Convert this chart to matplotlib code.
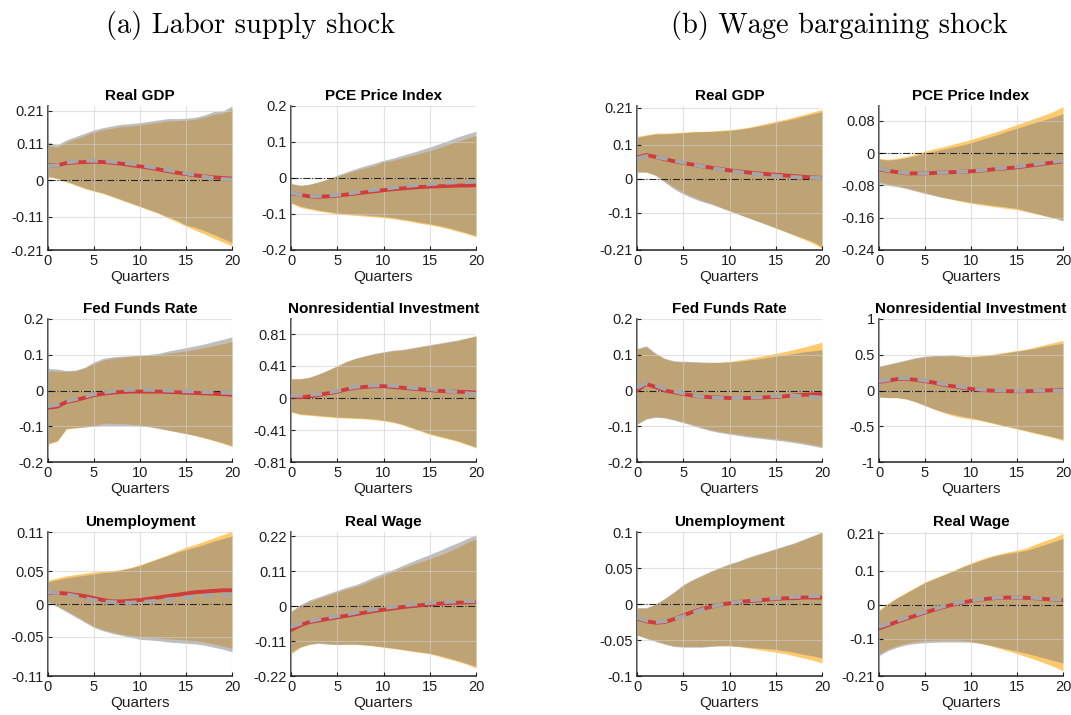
import matplotlib
matplotlib.use("Agg")
import matplotlib.pyplot as plt

plt.rcParams["font.family"] = ["Liberation Sans", "DejaVu Sans"]

quarters = list(range(21))

# ---------- (a) labor supply shock ----------
a_gdp_red = [0.045, 0.045, 0.052, 0.054, 0.055, 0.056, 0.055, 0.053, 0.050, 0.046, 0.042,
             0.038, 0.033, 0.028, 0.023, 0.019, 0.015, 0.012, 0.009, 0.007, 0.005]
a_gdp_gry = [0.043, 0.045, 0.054, 0.057, 0.059, 0.059, 0.058, 0.056, 0.053, 0.050, 0.046,
             0.041, 0.036, 0.031, 0.026, 0.021, 0.016, 0.011, 0.007, 0.004, 0.002]
a_gdp_lo1 = [0.010, 0.005, -0.005, -0.015, -0.025, -0.033, -0.040, -0.050, -0.060, -0.070, -0.080,
             -0.090, -0.100, -0.113, -0.125, -0.138, -0.150, -0.162, -0.174, -0.186, -0.198]
a_gdp_hi1 = [0.105, 0.100, 0.115, 0.125, 0.135, 0.145, 0.152, 0.157, 0.162, 0.164, 0.167,
             0.171, 0.175, 0.179, 0.180, 0.181, 0.184, 0.190, 0.199, 0.203, 0.215]
a_gdp_lo2 = [0.012, 0.007, -0.003, -0.013, -0.023, -0.031, -0.038, -0.048, -0.058, -0.068, -0.078,
             -0.088, -0.098, -0.110, -0.120, -0.135, -0.142, -0.152, -0.163, -0.175, -0.188]
a_gdp_hi2 = [0.115, 0.107, 0.122, 0.132, 0.142, 0.152, 0.159, 0.164, 0.169, 0.171, 0.174,
             0.178, 0.182, 0.186, 0.186, 0.187, 0.190, 0.197, 0.207, 0.209, 0.224]

a_pce_red = [-0.042, -0.047, -0.051, -0.052, -0.051, -0.049, -0.046, -0.043, -0.040, -0.037, -0.034,
             -0.031, -0.029, -0.027, -0.025, -0.024, -0.023, -0.022, -0.021, -0.021, -0.020]
a_pce_gry = [-0.040, -0.047, -0.050, -0.050, -0.049, -0.047, -0.044, -0.040, -0.036, -0.033, -0.030,
             -0.027, -0.024, -0.021, -0.019, -0.017, -0.015, -0.013, -0.012, -0.011, -0.010]
a_pce_lo1 = [-0.070, -0.082, -0.087, -0.092, -0.096, -0.100, -0.102, -0.104, -0.106, -0.108, -0.110,
             -0.113, -0.117, -0.121, -0.126, -0.130, -0.135, -0.141, -0.148, -0.155, -0.163]
a_pce_hi1 = [-0.016, -0.021, -0.018, -0.012, -0.004, 0.005, 0.013, 0.021, 0.028, 0.034, 0.045,
             0.049, 0.056, 0.062, 0.069, 0.076, 0.084, 0.093, 0.102, 0.110, 0.118]
a_pce_lo2 = [-0.068, -0.078, -0.084, -0.089, -0.093, -0.097, -0.099, -0.101, -0.103, -0.105, -0.107,
             -0.110, -0.114, -0.118, -0.123, -0.127, -0.132, -0.138, -0.145, -0.152, -0.160]
a_pce_hi2 = [-0.015, -0.020, -0.017, -0.010, -0.002, 0.008, 0.017, 0.026, 0.034, 0.041, 0.049,
             0.055, 0.063, 0.070, 0.078, 0.086, 0.095, 0.104, 0.114, 0.122, 0.130]

a_ffr_red = [-0.048, -0.045, -0.032, -0.027, -0.020, -0.013, -0.009, -0.006, -0.004, -0.003, -0.003,
             -0.003, -0.003, -0.004, -0.005, -0.006, -0.007, -0.008, -0.009, -0.010, -0.012]
a_ffr_gry = [-0.044, -0.040, -0.030, -0.024, -0.017, -0.010, -0.006, -0.002, 0.001, 0.002, 0.002,
             0.002, 0.001, 0.000, -0.001, -0.002, -0.003, -0.004, -0.005, -0.006, -0.007]
a_ffr_lo1 = [-0.150, -0.143, -0.108, -0.105, -0.102, -0.098, -0.092, -0.092, -0.093, -0.094, -0.096,
             -0.100, -0.105, -0.110, -0.115, -0.120, -0.126, -0.133, -0.140, -0.148, -0.157]
a_ffr_hi1 = [0.055, 0.054, 0.053, 0.055, 0.063, 0.075, 0.085, 0.090, 0.093, 0.096, 0.097,
             0.098, 0.100, 0.104, 0.107, 0.111, 0.115, 0.120, 0.125, 0.131, 0.137]
a_ffr_lo2 = [-0.148, -0.140, -0.106, -0.104, -0.102, -0.100, -0.098, -0.098, -0.098, -0.098, -0.099,
             -0.102, -0.106, -0.111, -0.116, -0.121, -0.126, -0.132, -0.139, -0.146, -0.154]
a_ffr_hi2 = [0.062, 0.060, 0.056, 0.057, 0.065, 0.080, 0.090, 0.094, 0.096, 0.097, 0.099,
             0.101, 0.104, 0.110, 0.115, 0.120, 0.125, 0.130, 0.137, 0.143, 0.150]

a_inv_red = [0.02, 0.01, 0.02, 0.04, 0.06, 0.08, 0.11, 0.13, 0.14, 0.15, 0.15,
             0.14, 0.13, 0.12, 0.11, 0.10, 0.09, 0.085, 0.08, 0.075, 0.07]
a_inv_gry = [0.03, 0.03, 0.04, 0.05, 0.07, 0.09, 0.12, 0.14, 0.155, 0.16, 0.16,
             0.155, 0.145, 0.13, 0.12, 0.11, 0.10, 0.09, 0.075, 0.06, 0.05]
a_inv_lo1 = [-0.18, -0.21, -0.22, -0.23, -0.24, -0.25, -0.255, -0.26, -0.265, -0.275, -0.29,
             -0.31, -0.34, -0.38, -0.42, -0.46, -0.49, -0.52, -0.55, -0.59, -0.63]
a_inv_hi1 = [0.24, 0.24, 0.26, 0.30, 0.35, 0.41, 0.46, 0.50, 0.53, 0.555, 0.575,
             0.595, 0.605, 0.625, 0.645, 0.665, 0.685, 0.705, 0.725, 0.755, 0.79]
a_inv_lo2 = [-0.17, -0.20, -0.21, -0.22, -0.23, -0.24, -0.245, -0.25, -0.255, -0.265, -0.28,
             -0.30, -0.33, -0.37, -0.41, -0.45, -0.48, -0.51, -0.54, -0.58, -0.62]
a_inv_hi2 = [0.245, 0.245, 0.265, 0.305, 0.355, 0.405, 0.465, 0.505, 0.535, 0.565, 0.585,
             0.605, 0.615, 0.635, 0.655, 0.675, 0.695, 0.715, 0.735, 0.76, 0.785]

a_unr_red = [0.017, 0.017, 0.016, 0.014, 0.012, 0.009, 0.006, 0.004, 0.004, 0.005, 0.006,
             0.008, 0.010, 0.012, 0.014, 0.016, 0.018, 0.019, 0.020, 0.021, 0.021]
a_unr_gry = [0.018, 0.017, 0.015, 0.012, 0.009, 0.006, 0.004, 0.003, 0.002, 0.002, 0.003,
             0.004, 0.005, 0.007, 0.008, 0.010, 0.011, 0.012, 0.013, 0.014, 0.014]
a_unr_lo1 = [0.004, -0.003, -0.010, -0.018, -0.026, -0.034, -0.039, -0.043, -0.046, -0.048, -0.050,
             -0.051, -0.052, -0.053, -0.054, -0.055, -0.056, -0.058, -0.061, -0.064, -0.068]
a_unr_hi1 = [0.036, 0.040, 0.043, 0.045, 0.047, 0.049, 0.050, 0.051, 0.053, 0.056, 0.060,
             0.065, 0.070, 0.075, 0.081, 0.087, 0.091, 0.096, 0.101, 0.106, 0.111]
a_unr_lo2 = [0.003, -0.004, -0.012, -0.020, -0.028, -0.036, -0.041, -0.045, -0.048, -0.051, -0.054,
             -0.055, -0.056, -0.058, -0.059, -0.060, -0.061, -0.063, -0.066, -0.069, -0.073]
a_unr_hi2 = [0.034, 0.037, 0.040, 0.042, 0.044, 0.046, 0.048, 0.049, 0.052, 0.055, 0.059,
             0.064, 0.069, 0.074, 0.079, 0.083, 0.087, 0.091, 0.096, 0.100, 0.104]

a_wag_red = [-0.075, -0.060, -0.050, -0.045, -0.040, -0.035, -0.030, -0.025, -0.020, -0.015, -0.011,
             -0.007, -0.003, 0.000, 0.003, 0.006, 0.008, 0.010, 0.011, 0.012, 0.013]
a_wag_gry = [-0.065, -0.055, -0.047, -0.041, -0.036, -0.031, -0.026, -0.020, -0.015, -0.010, -0.006,
             -0.002, 0.002, 0.005, 0.008, 0.010, 0.012, 0.014, 0.015, 0.016, 0.016]
a_wag_lo1 = [-0.150, -0.130, -0.120, -0.115, -0.118, -0.120, -0.120, -0.120, -0.122, -0.125, -0.130,
             -0.133, -0.137, -0.142, -0.146, -0.150, -0.158, -0.166, -0.174, -0.183, -0.195]
a_wag_hi1 = [-0.018, 0.000, 0.015, 0.025, 0.035, 0.045, 0.054, 0.062, 0.072, 0.085, 0.097,
             0.108, 0.120, 0.130, 0.140, 0.150, 0.160, 0.172, 0.185, 0.200, 0.213]
a_wag_lo2 = [-0.145, -0.128, -0.120, -0.117, -0.120, -0.121, -0.120, -0.120, -0.122, -0.125, -0.128,
             -0.132, -0.136, -0.140, -0.144, -0.148, -0.155, -0.163, -0.171, -0.180, -0.190]
a_wag_hi2 = [-0.015, 0.005, 0.020, 0.030, 0.040, 0.050, 0.060, 0.068, 0.080, 0.093, 0.105,
             0.115, 0.128, 0.140, 0.152, 0.163, 0.175, 0.188, 0.200, 0.213, 0.225]

# ---------- (b) wage bargaining shock ----------
b_gdp_red = [0.063, 0.070, 0.065, 0.058, 0.052, 0.047, 0.042, 0.037, 0.033, 0.029, 0.025,
             0.022, 0.019, 0.016, 0.014, 0.012, 0.010, 0.008, 0.006, 0.004, 0.003]
b_gdp_gry = [0.060, 0.067, 0.065, 0.060, 0.054, 0.048, 0.042, 0.037, 0.032, 0.028, 0.024,
             0.020, 0.017, 0.014, 0.011, 0.009, 0.007, 0.005, 0.004, 0.003, 0.002]
b_gdp_lo1 = [0.020, 0.020, 0.012, -0.006, -0.024, -0.040, -0.052, -0.063, -0.072, -0.083, -0.094,
             -0.104, -0.114, -0.124, -0.134, -0.145, -0.156, -0.167, -0.178, -0.190, -0.205]
b_gdp_hi1 = [0.125, 0.130, 0.135, 0.135, 0.136, 0.138, 0.140, 0.140, 0.141, 0.143, 0.145,
             0.148, 0.152, 0.158, 0.164, 0.170, 0.176, 0.183, 0.190, 0.197, 0.205]
b_gdp_lo2 = [0.020, 0.020, 0.010, -0.010, -0.030, -0.045, -0.057, -0.067, -0.075, -0.085, -0.095,
             -0.105, -0.115, -0.125, -0.135, -0.145, -0.155, -0.165, -0.175, -0.185, -0.200]
b_gdp_hi2 = [0.122, 0.128, 0.132, 0.133, 0.134, 0.136, 0.138, 0.139, 0.140, 0.141, 0.143,
             0.146, 0.150, 0.155, 0.160, 0.166, 0.172, 0.178, 0.185, 0.192, 0.198]

b_pce_red = [-0.040, -0.044, -0.047, -0.050, -0.050, -0.050, -0.049, -0.048, -0.047, -0.046, -0.045,
             -0.043, -0.041, -0.039, -0.037, -0.035, -0.032, -0.029, -0.026, -0.023, -0.020]
b_pce_gry = [-0.038, -0.043, -0.047, -0.049, -0.050, -0.050, -0.049, -0.048, -0.047, -0.046, -0.044,
             -0.042, -0.040, -0.038, -0.035, -0.033, -0.030, -0.027, -0.024, -0.021, -0.018]
b_pce_lo1 = [-0.070, -0.077, -0.081, -0.086, -0.092, -0.098, -0.104, -0.110, -0.115, -0.120, -0.124,
             -0.128, -0.131, -0.134, -0.137, -0.140, -0.145, -0.150, -0.155, -0.160, -0.165]
b_pce_hi1 = [-0.013, -0.015, -0.012, -0.008, -0.002, 0.005, 0.011, 0.016, 0.022, 0.028, 0.034,
             0.041, 0.048, 0.055, 0.063, 0.071, 0.079, 0.087, 0.095, 0.104, 0.115]
b_pce_lo2 = [-0.075, -0.080, -0.083, -0.088, -0.094, -0.100, -0.105, -0.110, -0.114, -0.118, -0.122,
             -0.125, -0.128, -0.131, -0.134, -0.137, -0.143, -0.149, -0.155, -0.161, -0.168]
b_pce_hi2 = [-0.015, -0.017, -0.015, -0.011, -0.006, 0.000, 0.005, 0.010, 0.015, 0.020, 0.026,
             0.033, 0.040, 0.047, 0.055, 0.062, 0.069, 0.076, 0.083, 0.090, 0.098]

b_ffr_red = [0.000, 0.018, 0.010, 0.000, -0.005, -0.010, -0.014, -0.017, -0.019, -0.020, -0.021,
             -0.021, -0.021, -0.020, -0.019, -0.018, -0.016, -0.014, -0.012, -0.011, -0.010]
b_ffr_gry = [0.008, 0.020, 0.014, 0.004, -0.002, -0.008, -0.013, -0.017, -0.020, -0.021, -0.021,
             -0.021, -0.020, -0.019, -0.017, -0.016, -0.015, -0.015, -0.016, -0.018, -0.020]
b_ffr_lo1 = [-0.093, -0.078, -0.073, -0.075, -0.081, -0.088, -0.095, -0.103, -0.110, -0.115, -0.119,
             -0.122, -0.126, -0.129, -0.132, -0.135, -0.138, -0.142, -0.146, -0.151, -0.156]
b_ffr_hi1 = [0.115, 0.122, 0.102, 0.088, 0.081, 0.080, 0.079, 0.078, 0.078, 0.079, 0.081,
             0.085, 0.089, 0.094, 0.099, 0.104, 0.109, 0.115, 0.121, 0.128, 0.135]
b_ffr_lo2 = [-0.095, -0.080, -0.075, -0.077, -0.083, -0.090, -0.098, -0.106, -0.113, -0.118, -0.122,
             -0.126, -0.130, -0.133, -0.136, -0.139, -0.142, -0.146, -0.150, -0.155, -0.160]
b_ffr_hi2 = [0.118, 0.125, 0.105, 0.090, 0.083, 0.082, 0.081, 0.080, 0.079, 0.079, 0.080,
             0.082, 0.085, 0.088, 0.092, 0.096, 0.100, 0.104, 0.108, 0.111, 0.114]

b_inv_red = [0.12, 0.14, 0.16, 0.16, 0.15, 0.13, 0.11, 0.08, 0.06, 0.04, 0.02,
             0.01, 0.00, -0.005, -0.01, -0.01, -0.01, -0.005, 0.00, 0.005, 0.01]
b_inv_gry = [0.13, 0.15, 0.17, 0.17, 0.16, 0.14, 0.12, 0.09, 0.07, 0.05, 0.03,
             0.015, 0.005, 0.00, -0.005, -0.005, -0.005, 0.00, 0.00, 0.00, 0.00]
b_inv_lo1 = [-0.09, -0.10, -0.10, -0.12, -0.16, -0.21, -0.26, -0.31, -0.35, -0.38, -0.40,
             -0.42, -0.45, -0.48, -0.51, -0.54, -0.57, -0.60, -0.63, -0.66, -0.70]
b_inv_hi1 = [0.33, 0.36, 0.39, 0.42, 0.45, 0.47, 0.48, 0.48, 0.48, 0.48, 0.48,
             0.49, 0.50, 0.52, 0.54, 0.56, 0.58, 0.61, 0.64, 0.67, 0.70]
b_inv_lo2 = [-0.09, -0.10, -0.10, -0.12, -0.16, -0.21, -0.26, -0.30, -0.33, -0.36, -0.38,
             -0.41, -0.44, -0.47, -0.50, -0.53, -0.56, -0.59, -0.62, -0.65, -0.68]
b_inv_hi2 = [0.34, 0.37, 0.40, 0.43, 0.46, 0.48, 0.49, 0.49, 0.50, 0.48, 0.47,
             0.48, 0.49, 0.51, 0.53, 0.55, 0.57, 0.59, 0.62, 0.64, 0.66]

b_unr_red = [-0.020, -0.024, -0.026, -0.025, -0.021, -0.016, -0.011, -0.007, -0.004, -0.001, 0.001,
             0.003, 0.004, 0.005, 0.006, 0.007, 0.008, 0.008, 0.009, 0.009, 0.009]
b_unr_gry = [-0.019, -0.023, -0.025, -0.024, -0.021, -0.017, -0.012, -0.008, -0.004, -0.001, 0.001,
             0.003, 0.005, 0.006, 0.007, 0.008, 0.009, 0.010, 0.010, 0.011, 0.011]
b_unr_lo1 = [-0.043, -0.047, -0.051, -0.055, -0.058, -0.059, -0.059, -0.059, -0.058, -0.058, -0.058,
             -0.059, -0.061, -0.063, -0.065, -0.067, -0.069, -0.072, -0.075, -0.078, -0.082]
b_unr_hi1 = [-0.006, -0.006, -0.001, 0.007, 0.016, 0.026, 0.033, 0.039, 0.045, 0.050, 0.055,
             0.059, 0.064, 0.068, 0.072, 0.076, 0.080, 0.084, 0.089, 0.094, 0.099]
b_unr_lo2 = [-0.043, -0.048, -0.052, -0.056, -0.059, -0.060, -0.060, -0.060, -0.059, -0.058, -0.058,
             -0.059, -0.060, -0.061, -0.062, -0.063, -0.065, -0.067, -0.070, -0.072, -0.075]
b_unr_hi2 = [-0.005, -0.005, 0.000, 0.008, 0.017, 0.027, 0.034, 0.040, 0.046, 0.051, 0.056,
             0.060, 0.065, 0.069, 0.073, 0.077, 0.081, 0.085, 0.090, 0.095, 0.100]

b_wag_red = [-0.070, -0.060, -0.050, -0.041, -0.032, -0.023, -0.015, -0.007, 0.000, 0.006, 0.011,
             0.015, 0.018, 0.020, 0.021, 0.021, 0.020, 0.019, 0.017, 0.015, 0.013]
b_wag_gry = [-0.065, -0.056, -0.047, -0.038, -0.029, -0.021, -0.013, -0.005, 0.002, 0.008, 0.012,
             0.016, 0.019, 0.021, 0.022, 0.022, 0.021, 0.020, 0.018, 0.016, 0.014]
b_wag_lo1 = [-0.145, -0.130, -0.120, -0.113, -0.108, -0.106, -0.105, -0.104, -0.104, -0.105, -0.108,
             -0.113, -0.120, -0.128, -0.136, -0.144, -0.153, -0.162, -0.172, -0.182, -0.195]
b_wag_hi1 = [-0.015, 0.005, 0.022, 0.037, 0.052, 0.067, 0.078, 0.089, 0.100, 0.112, 0.123,
             0.133, 0.142, 0.149, 0.155, 0.160, 0.167, 0.178, 0.188, 0.197, 0.210]
b_wag_lo2 = [-0.150, -0.135, -0.125, -0.118, -0.114, -0.112, -0.111, -0.110, -0.110, -0.110, -0.111,
             -0.114, -0.119, -0.125, -0.131, -0.137, -0.143, -0.150, -0.157, -0.165, -0.172]
b_wag_hi2 = [-0.018, 0.002, 0.020, 0.035, 0.050, 0.065, 0.076, 0.087, 0.098, 0.110, 0.120,
             0.130, 0.139, 0.146, 0.151, 0.155, 0.160, 0.168, 0.177, 0.186, 0.195]

# y tick labels per panel
ticks_021_011 = ["-0.21", "-0.11", "0", "0.11", "0.21"]
ticks_02 = ["-0.2", "-0.1", "0", "0.1", "0.2"]
ticks_081 = ["-0.81", "-0.41", "0", "0.41", "0.81"]
ticks_011_005 = ["-0.11", "-0.05", "0", "0.05", "0.11"]
ticks_022 = ["-0.22", "-0.11", "0", "0.11", "0.22"]
ticks_021_01 = ["-0.21", "-0.1", "0", "0.1", "0.21"]
ticks_024 = ["-0.24", "-0.16", "-0.08", "0", "0.08"]
ticks_1 = ["-1", "-0.5", "0", "0.5", "1"]
ticks_01_005 = ["-0.1", "-0.05", "0", "0.05", "0.1"]

ORANGE = "#FFB22E"
GREY_BAND = "#7F7F7F"
RED = "#D13B3B"
GREY_LINE = "#A6A6A6"
INK = "#1F1F1F"

panels_a = [
    ("Real GDP", a_gdp_lo1, a_gdp_hi1, a_gdp_lo2, a_gdp_hi2, a_gdp_red, a_gdp_gry, (-0.21, 0.224), ticks_021_011),
    ("PCE Price Index", a_pce_lo1, a_pce_hi1, a_pce_lo2, a_pce_hi2, a_pce_red, a_pce_gry, (-0.2, 0.2), ticks_02),
    ("Fed Funds Rate", a_ffr_lo1, a_ffr_hi1, a_ffr_lo2, a_ffr_hi2, a_ffr_red, a_ffr_gry, (-0.2, 0.2), ticks_02),
    ("Nonresidential Investment", a_inv_lo1, a_inv_hi1, a_inv_lo2, a_inv_hi2, a_inv_red, a_inv_gry, (-0.81, 1.0), ticks_081),
    ("Unemployment", a_unr_lo1, a_unr_hi1, a_unr_lo2, a_unr_hi2, a_unr_red, a_unr_gry, (-0.11, 0.11), ticks_011_005),
    ("Real Wage", a_wag_lo1, a_wag_hi1, a_wag_lo2, a_wag_hi2, a_wag_red, a_wag_gry, (-0.22, 0.234), ticks_022),
]
panels_b = [
    ("Real GDP", b_gdp_lo1, b_gdp_hi1, b_gdp_lo2, b_gdp_hi2, b_gdp_red, b_gdp_gry, (-0.21, 0.215), ticks_021_01),
    ("PCE Price Index", b_pce_lo1, b_pce_hi1, b_pce_lo2, b_pce_hi2, b_pce_red, b_pce_gry, (-0.24, 0.117), ticks_024),
    ("Fed Funds Rate", b_ffr_lo1, b_ffr_hi1, b_ffr_lo2, b_ffr_hi2, b_ffr_red, b_ffr_gry, (-0.2, 0.2), ticks_02),
    ("Nonresidential Investment", b_inv_lo1, b_inv_hi1, b_inv_lo2, b_inv_hi2, b_inv_red, b_inv_gry, (-1.0, 1.0), ticks_1),
    ("Unemployment", b_unr_lo1, b_unr_hi1, b_unr_lo2, b_unr_hi2, b_unr_red, b_unr_gry, (-0.1, 0.1), ticks_01_005),
    ("Real Wage", b_wag_lo1, b_wag_hi1, b_wag_lo2, b_wag_hi2, b_wag_red, b_wag_gry, (-0.21, 0.214), ticks_021_01),
]


def draw_panel(ax, title, lo1, hi1, lo2, hi2, med1, med2, ylim, yticklabels):
    ax.fill_between(quarters, lo1, hi1, color=ORANGE, alpha=0.7, linewidth=0, zorder=1)
    ax.fill_between(quarters, lo2, hi2, color=GREY_BAND, alpha=0.5, linewidth=0, zorder=2)
    ax.axhline(0, color="black", linestyle="-.", linewidth=0.8, alpha=0.8, zorder=3)
    ax.plot(quarters, med1, color=RED, linewidth=2.8, zorder=4)
    ax.plot(quarters, med2, color=GREY_LINE, linewidth=2.8, dashes=(3, 2), zorder=5)

    ax.set_xlim(0, 20)
    ax.set_ylim(*ylim)
    ax.set_xticks([0, 5, 10, 15, 20])
    ax.set_yticks([float(t) for t in yticklabels])
    ax.set_yticklabels(yticklabels)
    ax.set_title(title, fontsize=11, fontweight="bold", pad=4, color="black")
    ax.set_xlabel("Quarters", fontsize=11, labelpad=1, color=INK)

    # grid sits over the bands, light enough to show through them
    ax.set_axisbelow(False)
    ax.grid(True, color="#D0D0D0", alpha=0.6, linewidth=0.8)
    for side in ("top", "right"):
        ax.spines[side].set_visible(False)
    for side in ("left", "bottom"):
        ax.spines[side].set_color(INK)
        ax.spines[side].set_linewidth(1.1)
    ax.tick_params(direction="in", length=3, width=0.8, labelsize=10.5, colors=INK, pad=3)


fig = plt.figure(figsize=(10.71, 7.15), dpi=100)

W, H = 1071, 715
col_left = [(48, 232), (291, 476), (637, 822), (879, 1063)]
row_top = [(106, 250), (319, 462), (532, 676)]

for g, panels in enumerate([panels_a, panels_b]):
    for i, spec in enumerate(panels):
        r, c = divmod(i, 2)
        x0, x1 = col_left[2 * g + c]
        y0, y1 = row_top[r]
        ax = fig.add_axes([x0 / W, 1 - y1 / H, (x1 - x0) / W, (y1 - y0) / H])
        draw_panel(ax, *spec)

fig.text(251 / W, 1 - 25 / H, "(a) Labor supply shock", fontsize=20.5, family="cmr10",
         ha="center", va="center")
fig.text(839 / W, 1 - 25 / H, "(b) Wage bargaining shock", fontsize=20.5, family="cmr10",
         ha="center", va="center")

fig.savefig("out.png", dpi=100)
